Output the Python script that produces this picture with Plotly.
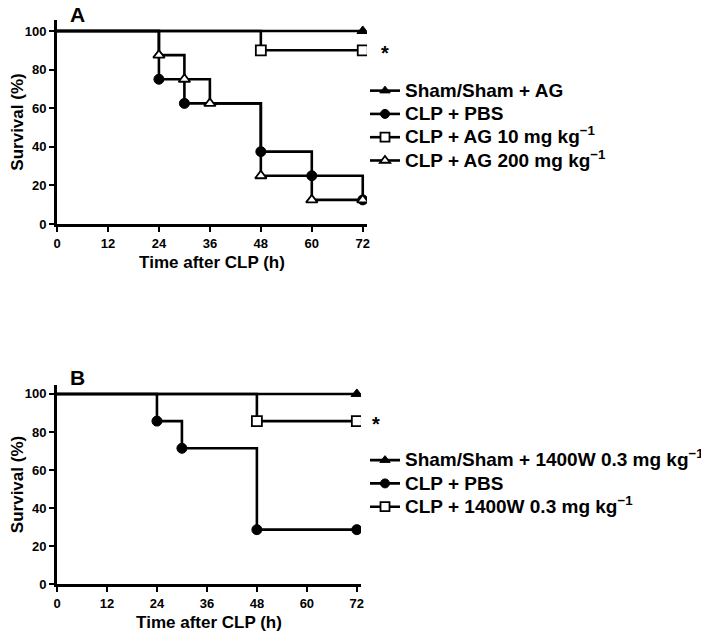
import plotly.graph_objects as go

WIN_W, WIN_H = 709, 633
OFF = 8  # default page margin around the plot div
W, H = WIN_W - OFF, WIN_H - OFF


def fx(px):
    return (px - OFF) / W


def fy(py):
    return 1 - (py - OFF) / H


# ---------------- data ----------------
time_ticks = [0, 12, 24, 36, 48, 60, 72]
surv_ticks = [0, 20, 40, 60, 80, 100]

# Panel A
a_sham_t = [0, 72]
a_sham_s = [100, 100]
a_pbs_t = [0, 24, 30, 48, 60, 72]
a_pbs_s = [100, 75, 62.5, 37.5, 25, 12.5]
a_ag10_t = [0, 48, 72]
a_ag10_s = [100, 90, 90]
a_ag200_t = [0, 24, 30, 36, 48, 60, 72]
a_ag200_s = [100, 87.5, 75, 62.5, 25, 12.5, 12.5]

# Panel B
b_sham_t = [0, 72]
b_sham_s = [100, 100]
b_pbs_t = [0, 24, 30, 48, 72]
b_pbs_s = [100, 85.7, 71.4, 28.6, 28.6]
b_w_t = [0, 48, 72]
b_w_s = [100, 85.7, 85.7]

a_names = ["Sham/Sham + AG", "CLP + PBS",
           "CLP + AG 10 mg kg<sup>−1</sup>", "CLP + AG 200 mg kg<sup>−1</sup>"]
b_names = ["Sham/Sham + 1400W 0.3 mg kg<sup>−1</sup>", "CLP + PBS",
           "CLP + 1400W 0.3 mg kg<sup>−1</sup>"]

FONT = "Liberation Sans, Arial, sans-serif"
LW = 2.6
MS = 10
LEG_TXT = 19

styles = {
    "sham": dict(symbol="triangle-up", color="black", line=dict(color="black", width=1)),
    "pbs": dict(symbol="circle", color="black", line=dict(color="black", width=1)),
    "sq": dict(symbol="square", color="white", line=dict(color="black", width=1.8)),
    "tri": dict(symbol="triangle-up", color="white", line=dict(color="black", width=1.8)),
}

fig = go.Figure()


def add_series(t, s, key, name, xa, ya, legend):
    # step line
    fig.add_trace(go.Scatter(x=t, y=s, mode="lines", line=dict(color="black", width=LW, shape="hv"),
                             xaxis=xa, yaxis=ya, showlegend=False, hoverinfo="skip"))
    # event markers (no marker at time 0)
    fig.add_trace(go.Scatter(x=t[1:], y=s[1:], mode="markers",
                             marker=dict(size=MS, **styles[key]),
                             xaxis=xa, yaxis=ya, showlegend=False))
    # legend entry
    fig.add_trace(go.Scatter(x=[None], y=[None], mode="lines+markers",
                             name=f'<span style="font-size:{LEG_TXT}px">{name}</span>&nbsp;&nbsp;',
                             line=dict(color="black", width=LW),
                             marker=dict(size=9, **styles[key]),
                             xaxis=xa, yaxis=ya, legend=legend, showlegend=True))


add_series(a_sham_t, a_sham_s, "sham", a_names[0], "x", "y", "legend")
add_series(a_pbs_t, a_pbs_s, "pbs", a_names[1], "x", "y", "legend")
add_series(a_ag10_t, a_ag10_s, "sq", a_names[2], "x", "y", "legend")
add_series(a_ag200_t, a_ag200_s, "tri", a_names[3], "x", "y", "legend")

add_series(b_sham_t, b_sham_s, "sham", b_names[0], "x2", "y2", "legend2")
add_series(b_pbs_t, b_pbs_s, "pbs", b_names[1], "x2", "y2", "legend2")
add_series(b_w_t, b_w_s, "sq", b_names[2], "x2", "y2", "legend2")

tickfont = dict(family=FONT, size=13, color="black", weight="bold")
titlefont = dict(family=FONT, size=17, color="black", weight="bold")

xcommon = dict(range=[0, 73], tickvals=time_ticks, showline=True, linecolor="black", linewidth=3,
               ticks="outside", ticklen=5, tickwidth=2, tickcolor="black", showgrid=False,
               zeroline=False, tickfont=tickfont, automargin=False,
               title=dict(text="Time after CLP (h)", font=titlefont, standoff=7))
ycommon = dict(tickvals=surv_ticks, showline=True, linecolor="black", linewidth=3,
               ticks="outside", ticklen=5, tickwidth=2, tickcolor="black", showgrid=False,
               zeroline=False, tickfont=tickfont, automargin=False,
               title=dict(text="Survival (%)", font=titlefont, standoff=14))

legfont = dict(family=FONT, size=15.6, color="black", weight="bold")

fig.update_layout(
    width=W, height=H,
    margin=dict(l=0, r=0, t=0, b=0, autoexpand=False),
    paper_bgcolor="white", plot_bgcolor="white",
    font=dict(family=FONT, color="black"),
    xaxis=dict(domain=[fx(57), fx(367)], anchor="y", **xcommon),
    yaxis=dict(domain=[fy(224), fy(20)], range=[0, 105.7], anchor="x", **ycommon),
    xaxis2=dict(domain=[fx(57), fx(361)], anchor="y2", **xcommon),
    yaxis2=dict(domain=[fy(584), fy(385)], range=[0, 104.7], anchor="x2", **ycommon),
    legend=dict(x=fx(365), y=fy(74), xanchor="left", yanchor="top", font=legfont,
                bgcolor="rgba(0,0,0,0)", itemwidth=30, tracegroupgap=0),
    legend2=dict(x=fx(365), y=fy(443.5), xanchor="left", yanchor="top", font=legfont,
                 bgcolor="rgba(0,0,0,0)", itemwidth=30, tracegroupgap=0),
    showlegend=True,
)

# panel letters
fig.add_annotation(text="A", x=fx(77), y=fy(15), xref="paper", yref="paper", showarrow=False,
                   xanchor="center", yanchor="middle",
                   font=dict(family=FONT, size=21, color="black", weight="bold"))
fig.add_annotation(text="B", x=fx(77), y=fy(377), xref="paper", yref="paper", showarrow=False,
                   xanchor="center", yanchor="middle",
                   font=dict(family=FONT, size=21, color="black", weight="bold"))

# significance asterisks next to the last point of the treated group
fig.add_annotation(text="*", x=a_ag10_t[-1], y=a_ag10_s[-1], xref="x", yref="y", showarrow=False,
                   xshift=22, yshift=-3, font=dict(family=FONT, size=20, color="black", weight="bold"))
fig.add_annotation(text="*", x=b_w_t[-1], y=b_w_s[-1], xref="x2", yref="y2", showarrow=False,
                   xshift=19, yshift=-3, font=dict(family=FONT, size=20, color="black", weight="bold"))

fig.write_html("out.html")
